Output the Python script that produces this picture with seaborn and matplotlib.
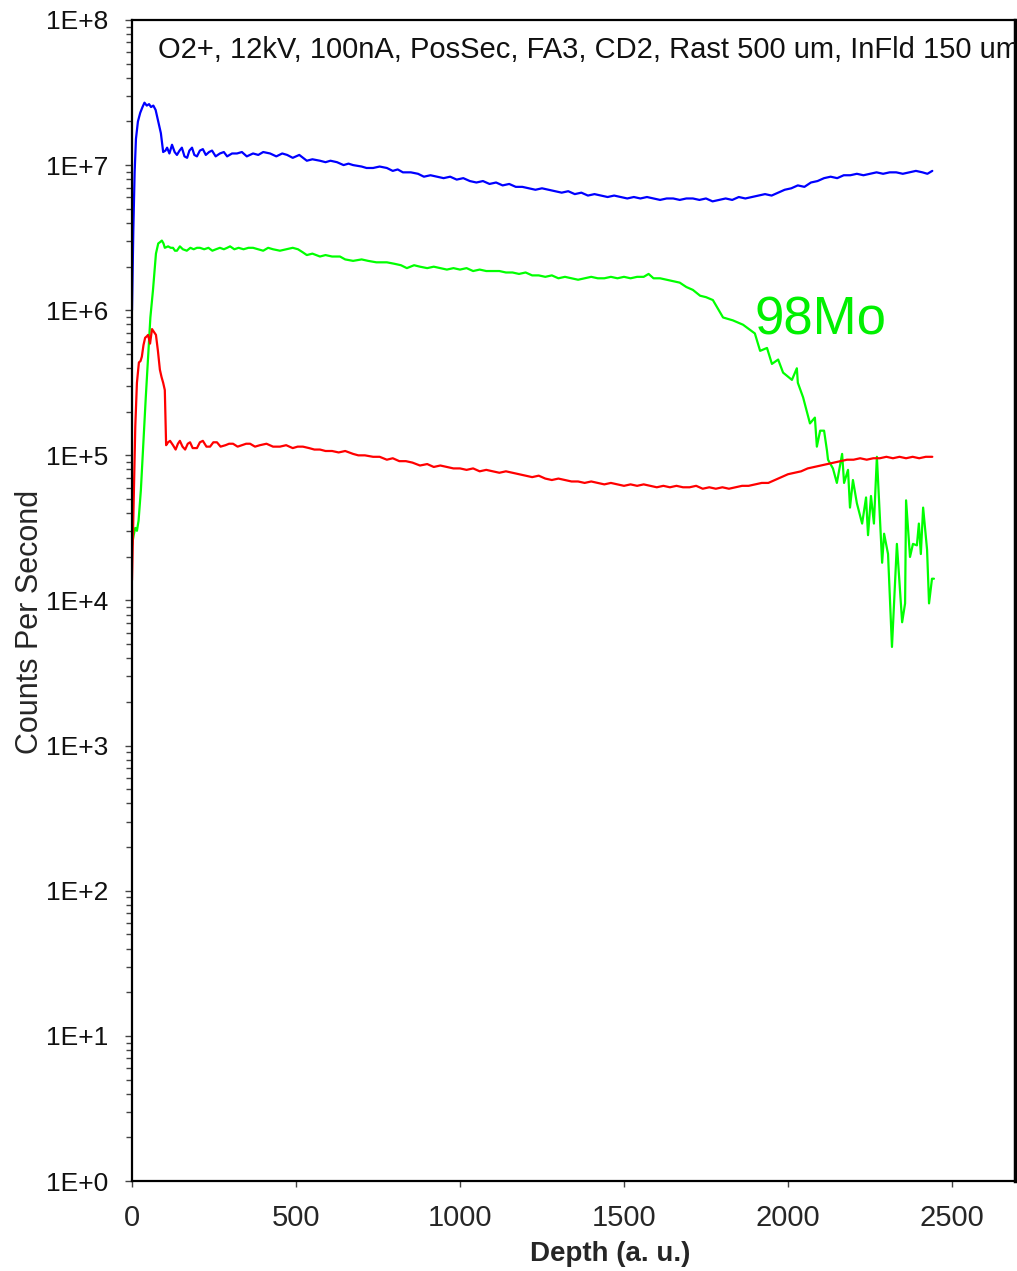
import numpy as np
import pandas as pd
import matplotlib
matplotlib.use("Agg")
import matplotlib.pyplot as plt
import matplotlib.ticker as mticker
from matplotlib import font_manager
import seaborn as sns

# ---- data (log10 of counts per second) ----
blue_depth = [0, 4, 8, 12, 18, 25, 32, 38, 45, 52, 58, 65, 72, 80, 88, 95, 102, 107, 114, 122,
              130, 137, 145, 152, 160, 168, 175, 183, 190, 198, 207, 216, 225, 235, 244, 255, 268,
              280, 290, 305, 320, 335, 350, 369, 385, 400, 421, 440, 458, 473, 490, 510, 533, 550,
              573, 590, 605, 625, 645, 660, 674, 700, 715, 735, 755, 777, 795, 810, 826, 850, 872,
              890, 910, 930, 950, 970, 990, 1010, 1030, 1050, 1070, 1090, 1110, 1130, 1150, 1170,
              1190, 1210, 1230, 1250, 1270, 1290, 1310, 1330, 1350, 1370, 1390, 1410, 1430, 1450,
              1470, 1490, 1510, 1530, 1550, 1570, 1590, 1610, 1630, 1650, 1670, 1690, 1710, 1730,
              1750, 1770, 1790, 1810, 1830, 1850, 1870, 1890, 1910, 1930, 1950, 1970, 1990, 2010,
              2030, 2050, 2070, 2090, 2110, 2130, 2150, 2170, 2190, 2210, 2230, 2250, 2270, 2290,
              2310, 2330, 2350, 2370, 2390, 2410, 2425, 2440]
blue_log = [6.00, 6.55, 6.95, 7.18, 7.30, 7.36, 7.40, 7.43, 7.41, 7.42, 7.40, 7.41, 7.38, 7.30,
            7.22, 7.09, 7.10, 7.12, 7.08, 7.14, 7.09, 7.07, 7.10, 7.12, 7.06, 7.05, 7.10, 7.12,
            7.07, 7.06, 7.10, 7.11, 7.07, 7.09, 7.10, 7.06, 7.08, 7.09, 7.06, 7.08, 7.08, 7.09,
            7.06, 7.08, 7.07, 7.09, 7.08, 7.06, 7.08, 7.07, 7.05, 7.07, 7.03, 7.04, 7.03, 7.02,
            7.03, 7.02, 7.00, 7.01, 7.00, 6.99, 6.98, 6.98, 6.99, 6.98, 6.96, 6.97, 6.95, 6.95,
            6.94, 6.92, 6.93, 6.92, 6.91, 6.92, 6.90, 6.91, 6.89, 6.88, 6.89, 6.87, 6.88, 6.86,
            6.87, 6.85, 6.85, 6.84, 6.83, 6.84, 6.83, 6.82, 6.81, 6.82, 6.80, 6.81, 6.79, 6.80,
            6.79, 6.78, 6.79, 6.78, 6.77, 6.78, 6.77, 6.78, 6.77, 6.76, 6.77, 6.77, 6.76, 6.77,
            6.77, 6.76, 6.77, 6.75, 6.76, 6.77, 6.76, 6.78, 6.77, 6.78, 6.79, 6.80, 6.79, 6.81,
            6.83, 6.84, 6.86, 6.85, 6.88, 6.89, 6.91, 6.92, 6.91, 6.93, 6.93, 6.94, 6.93, 6.94,
            6.95, 6.94, 6.95, 6.95, 6.94, 6.95, 6.96, 6.95, 6.94, 6.96]

green_depth = [0, 5, 10, 15, 20, 27, 35, 42, 49, 56, 64, 73, 80, 86, 91, 96, 100, 110, 118, 125,
               131, 137, 146, 155, 167, 178, 188, 198, 207, 220, 233, 245, 256, 268, 280, 290, 299,
               312, 325, 340, 355, 369, 385, 400, 415, 430, 451, 470, 490, 506, 520, 533, 550, 573,
               590, 610, 634, 650, 674, 700, 720, 745, 777, 800, 820, 838, 860, 878, 900, 920, 940,
               960, 980, 1000, 1020, 1040, 1060, 1080, 1100, 1120, 1140, 1160, 1180, 1200, 1220,
               1240, 1260, 1280, 1300, 1320, 1340, 1360, 1380, 1400, 1420, 1440, 1460, 1480, 1500,
               1520, 1540, 1560, 1575, 1590, 1610, 1630, 1650, 1670, 1690, 1710, 1732, 1750, 1771,
               1802, 1832, 1863, 1899, 1915, 1936, 1951, 1970, 1985, 2012, 2027, 2030, 2046, 2067,
               2082, 2088, 2098, 2110, 2119, 2122, 2137, 2149, 2165, 2171, 2183, 2189, 2198, 2210,
               2226, 2238, 2244, 2253, 2262, 2271, 2287, 2293, 2305, 2317, 2332, 2348, 2357, 2360,
               2372, 2381, 2393, 2399, 2405, 2412, 2424, 2430, 2439, 2445]
green_log = [4.38, 4.45, 4.50, 4.48, 4.55, 4.76, 5.10, 5.40, 5.68, 5.95, 6.14, 6.39, 6.46, 6.47,
             6.48, 6.46, 6.43, 6.44, 6.43, 6.43, 6.41, 6.41, 6.44, 6.42, 6.41, 6.43, 6.42, 6.43,
             6.43, 6.42, 6.43, 6.41, 6.42, 6.43, 6.42, 6.43, 6.44, 6.42, 6.43, 6.42, 6.43, 6.43,
             6.42, 6.41, 6.43, 6.42, 6.41, 6.42, 6.43, 6.42, 6.40, 6.38, 6.39, 6.37, 6.38, 6.37,
             6.37, 6.35, 6.34, 6.35, 6.34, 6.33, 6.33, 6.32, 6.31, 6.29, 6.31, 6.30, 6.29, 6.30,
             6.29, 6.28, 6.29, 6.28, 6.29, 6.27, 6.28, 6.27, 6.27, 6.27, 6.26, 6.26, 6.25, 6.26,
             6.24, 6.24, 6.23, 6.24, 6.22, 6.23, 6.22, 6.21, 6.22, 6.23, 6.22, 6.22, 6.23, 6.22,
             6.23, 6.22, 6.23, 6.23, 6.25, 6.22, 6.22, 6.21, 6.20, 6.19, 6.16, 6.14, 6.10, 6.09,
             6.07, 5.95, 5.93, 5.90, 5.84, 5.72, 5.74, 5.63, 5.66, 5.57, 5.52, 5.60, 5.50, 5.40,
             5.22, 5.26, 5.06, 5.17, 5.17, 5.03, 4.97, 4.91, 4.81, 5.01, 4.81, 4.90, 4.64, 4.83,
             4.67, 4.53, 4.71, 4.45, 4.72, 4.53, 4.99, 4.26, 4.46, 4.32, 3.68, 4.39, 3.85, 3.98,
             4.69, 4.30, 4.39, 4.38, 4.53, 4.32, 4.64, 4.35, 3.98, 4.15, 4.15]

red_depth = [0, 3, 6, 10, 15, 21, 26, 30, 35, 40, 45, 49, 55, 61, 67, 73, 79, 85, 90, 95, 100,
             104, 110, 116, 125, 133, 140, 146, 154, 162, 170, 177, 185, 198, 207, 216, 227, 238,
             248, 259, 270, 285, 296, 308, 322, 335, 348, 360, 375, 390, 410, 430, 451, 470, 490,
             505, 521, 540, 556, 573, 590, 610, 630, 650, 674, 690, 710, 735, 755, 777, 795, 815,
             835, 855, 878, 900, 920, 940, 960, 980, 1000, 1020, 1040, 1060, 1080, 1100, 1120,
             1140, 1160, 1180, 1200, 1220, 1240, 1260, 1280, 1300, 1320, 1340, 1360, 1380, 1400,
             1420, 1440, 1460, 1480, 1500, 1520, 1540, 1560, 1580, 1600, 1620, 1640, 1660, 1680,
             1700, 1720, 1740, 1760, 1780, 1800, 1820, 1840, 1860, 1880, 1900, 1920, 1940, 1960,
             1980, 2000, 2020, 2040, 2060, 2080, 2100, 2120, 2140, 2160, 2180, 2200, 2220, 2240,
             2260, 2280, 2300, 2320, 2340, 2360, 2380, 2400, 2420, 2440]
red_log = [4.14, 4.45, 4.76, 5.20, 5.50, 5.64, 5.65, 5.68, 5.76, 5.81, 5.82, 5.83, 5.77, 5.87,
           5.85, 5.83, 5.72, 5.59, 5.54, 5.50, 5.45, 5.07, 5.09, 5.10, 5.07, 5.04, 5.08, 5.10,
           5.06, 5.04, 5.08, 5.09, 5.05, 5.05, 5.09, 5.10, 5.06, 5.06, 5.09, 5.09, 5.06, 5.07,
           5.08, 5.08, 5.06, 5.07, 5.08, 5.08, 5.06, 5.07, 5.08, 5.06, 5.06, 5.07, 5.05, 5.06,
           5.06, 5.05, 5.04, 5.04, 5.03, 5.03, 5.02, 5.03, 5.01, 5.00, 5.00, 4.99, 4.99, 4.97,
           4.98, 4.96, 4.96, 4.95, 4.93, 4.94, 4.92, 4.93, 4.92, 4.91, 4.91, 4.90, 4.91, 4.89,
           4.90, 4.89, 4.88, 4.89, 4.88, 4.87, 4.86, 4.85, 4.86, 4.84, 4.83, 4.84, 4.83, 4.82,
           4.82, 4.81, 4.82, 4.81, 4.80, 4.81, 4.80, 4.79, 4.80, 4.79, 4.80, 4.79, 4.78, 4.79,
           4.78, 4.79, 4.78, 4.78, 4.79, 4.77, 4.78, 4.77, 4.78, 4.77, 4.78, 4.79, 4.79, 4.80,
           4.81, 4.81, 4.83, 4.85, 4.87, 4.88, 4.89, 4.91, 4.92, 4.93, 4.94, 4.95, 4.96, 4.97,
           4.97, 4.98, 4.97, 4.98, 4.98, 4.99, 4.98, 4.99, 4.98, 4.99, 4.98, 4.99, 4.99]

subtitle = "O2+, 12kV, 100nA, PosSec, FA3, CD2, Rast 500 um, InFld 150 um"
x_ticks = [0, 500, 1000, 1500, 2000, 2500]

sns.set_theme(style="white")
plt.rcParams["font.family"] = ["Liberation Sans", "DejaVu Sans"]


def narrow_family():
    try:
        font_manager.findfont("Liberation Sans Narrow", fallback_to_default=False)
        return ["Liberation Sans Narrow", "Liberation Sans"], True
    except Exception:
        return ["Liberation Sans", "DejaVu Sans"], False


NARROW, HAS_NARROW = narrow_family()

frames = []
for name, d, lg in [("blue", blue_depth, blue_log), ("green", green_depth, green_log),
                    ("red", red_depth, red_log)]:
    frames.append(pd.DataFrame({"depth": d, "cps": np.power(10.0, lg), "series": name}))
df = pd.concat(frames, ignore_index=True)

fig = plt.figure(figsize=(10.17, 12.71), dpi=100)
ax = fig.add_axes([0.1298, 0.0708, 0.998 - 0.1298, 0.9843 - 0.0708])

sns.lineplot(data=df, x="depth", y="cps", hue="series",
             palette={"blue": "#0000ff", "green": "#00ff00", "red": "#ff0000"},
             estimator=None, sort=False, legend=False, linewidth=1.6, ax=ax)

ax.set_yscale("log")
ax.set_ylim(1, 1e8)
ax.set_xlim(0, 2692)
ax.yaxis.set_major_locator(mticker.LogLocator(base=10, numticks=20))
ax.yaxis.set_minor_locator(mticker.LogLocator(base=10, subs=np.arange(2, 10), numticks=20))
ax.yaxis.set_minor_formatter(mticker.NullFormatter())
ax.yaxis.set_major_formatter(mticker.FuncFormatter(lambda v, p: f"1E+{int(round(np.log10(v)))}"))
ax.set_xticks(x_ticks)

ax.tick_params(axis="y", which="major", direction="out", length=5, width=1, color="#444444",
               labelsize=19, pad=12, left=True)
ax.tick_params(axis="y", which="minor", direction="out", length=4.5, width=1, color="#444444",
               left=True)
ax.tick_params(axis="x", which="major", direction="out", length=4.5, width=1, color="#444444",
               pad=12, bottom=True)
for lbl in ax.get_xticklabels():
    lbl.set_family(NARROW)
    lbl.set_fontsize(25 if HAS_NARROW else 21)
for lbl in ax.get_yticklabels():
    lbl.set_color("#111111")

for side in ["left", "bottom", "top"]:
    ax.spines[side].set_color("black")
    ax.spines[side].set_linewidth(1.6)
ax.spines["right"].set_color("black")
ax.spines["right"].set_linewidth(2.5)
ax.grid(False)

ax.set_xlabel("Depth (a. u.)", family=NARROW, fontsize=23 if HAS_NARROW else 20,
              fontweight="bold")
ax.xaxis.set_label_coords(0.541, -0.052)
ax.set_ylabel("Counts Per Second", fontsize=22)
ax.yaxis.set_label_coords(-0.098, 0.4815)

ax.text(0.03, 0.986, subtitle, transform=ax.transAxes, fontsize=21, color="#111111",
        ha="left", va="top", clip_on=True)
ax.text(0.705, 0.741, "98Mo", transform=ax.transAxes, fontsize=38, color="#00f000",
        ha="left", va="center")

fig.savefig("out.png", dpi=100)
